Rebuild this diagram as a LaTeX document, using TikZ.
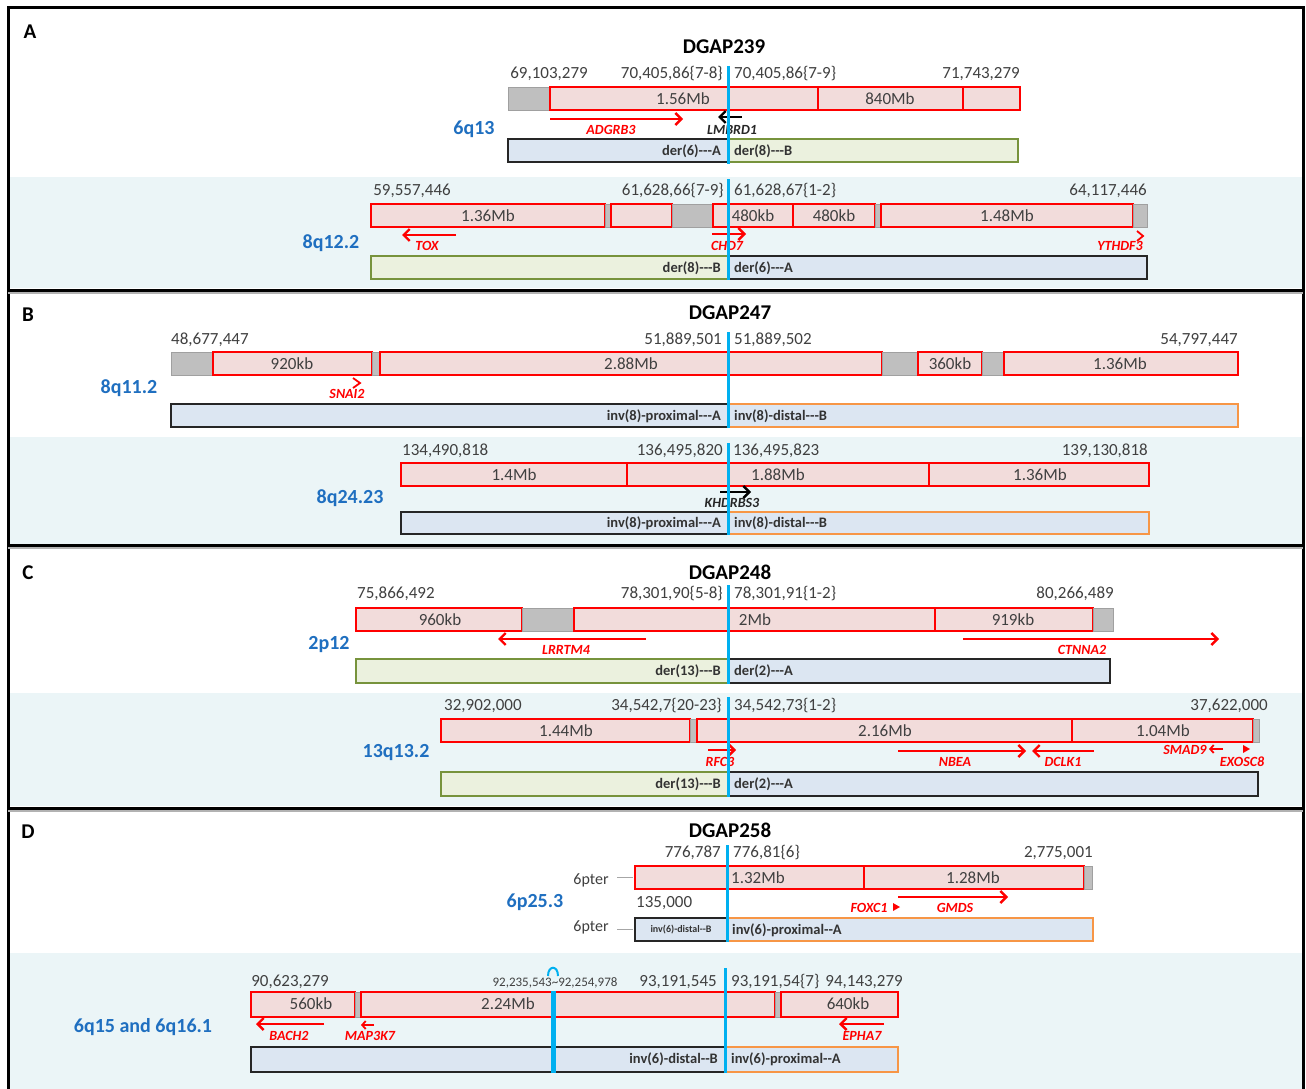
\documentclass[tikz,border=0pt]{standalone}
\usepackage{fontspec}
\setmainfont{Carlito}
\usetikzlibrary{arrows.meta}
\definecolor{pinkfill}{HTML}{F2DCDB}
\definecolor{graybar}{HTML}{BFBFBF}
\definecolor{grayedge}{HTML}{A0A0A0}
\definecolor{bluefill}{HTML}{DCE6F2}
\definecolor{greenfill}{HTML}{EBF1DE}
\definecolor{greenedge}{HTML}{77933C}
\definecolor{orangeedge}{HTML}{F79646}
\definecolor{lowbg}{HTML}{EBF5F7}
\definecolor{bandblue}{HTML}{1F6FC0}
\definecolor{bpblue}{HTML}{00B0F0}
\definecolor{txtgray}{HTML}{404040}
\definecolor{genered}{HTML}{FF0000}
\newcommand\hy{-\kern0pt}
\newcommand\rbox[4]{\draw[redbox] (#1,#3) rectangle (#2,#4);}
\newcommand\gbox[4]{\draw[graybox] (#1,#3) rectangle (#2,#4);}
\newcommand\dvl[3]{\draw[divline] (#1,#2) -- (#1,#3);}
\begin{document}
\begin{tikzpicture}[x=1pt,y=-1pt,
  num/.style={font=\fontsize{17}{17}\selectfont, text=txtgray, inner sep=0pt},
  smallnum/.style={font=\fontsize{13}{13}\selectfont, text=txtgray, inner sep=0pt},
  seg/.style={font=\fontsize{17}{17}\selectfont, text=txtgray, inner sep=0pt},
  der/.style={font=\bfseries\fontsize{14.5}{14.5}\selectfont, text=black!80, inner sep=0pt},
  tinyder/.style={font=\bfseries\fontsize{10}{10}\selectfont, text=black!80, inner sep=0pt},
  gene/.style={font=\bfseries\itshape\fontsize{14}{14}\selectfont, text=genered, inner sep=0pt},
  blackgene/.style={gene, text=black!85},
  band/.style={font=\bfseries\fontsize{20}{20}\selectfont, text=bandblue, inner sep=0pt},
  ttl/.style={font=\bfseries\fontsize{21}{21}\selectfont, inner sep=0pt},
  plabel/.style={font=\bfseries\fontsize{21}{21}\selectfont, inner sep=0pt},
  pter/.style={font=\fontsize{16}{16}\selectfont, text=txtgray, inner sep=0pt},
  redbox/.style={draw=genered, line width=1.8pt, fill=pinkfill},
  graybox/.style={draw=grayedge, line width=0.8pt, fill=graybar},
  divline/.style={draw=genered, line width=1.3pt},
  bluebar/.style={draw=black!85, line width=1.8pt, fill=bluefill},
  greenbar/.style={draw=greenedge, line width=1.8pt, fill=greenfill},
  orangebar/.style={draw=orangeedge, line width=1.8pt, fill=bluefill},
  bpline/.style={draw=bpblue, line width=3pt},
  garrow/.style={draw=genered, line width=2.4pt, -{Straight Barb[length=6pt,width=12pt]}},
  karrow/.style={garrow, draw=black},
  minarrow/.style={draw=genered, line width=1.8pt, -{Straight Barb[length=3.5pt,width=8pt]}},
  chev/.style={draw=genered, line width=1.8pt},
  tri/.style={fill=genered},
  pterline/.style={draw=gray!70, line width=1pt},
  framel/.style={draw=black, line width=3pt},
  lowpanel/.style={fill=lowbg}
]
\useasboundingbox (0,0) rectangle (1306,1089);
\fill[white] (0,0) rectangle (1306,1089);
% lower backgrounds
\fill[lowpanel] (9,177) rectangle (1302,288);
\fill[lowpanel] (9,437) rectangle (1302,544);
\fill[lowpanel] (9,693) rectangle (1302,806);
\fill[lowpanel] (9,953) rectangle (1302,1089);
% frame
\draw[framel] (8,1089) -- (8,8) -- (1303,8) -- (1303,1089);
\draw[gray!60, line width=2pt] (8,293) -- (1303,293);
\draw[framel] (8,290) -- (1303,290);
\draw[gray!60, line width=2pt] (8,548) -- (1303,548);
\draw[framel] (8,545) -- (1303,545);
\draw[gray!60, line width=2pt] (8,811) -- (1303,811);
\draw[framel] (8,808) -- (1303,808);

%%%%%%%%%%%%%%%% Panel A
\node[plabel] (pA) at (30,32) {A};
\node[ttl] (tA) at (724,47) {DGAP239};
\node[num] (a1) at (549,74) {69,103,279};
\node[num, anchor=east] (a2) at (723,74) {70,405,86\{7-8\}};
\node[num, anchor=west] (a3) at (734,74) {70,405,86\{7-9\}};
\node[num, anchor=east] (a4) at (1020,74) {71,743,279};
\gbox{508}{550}{87}{110}
\rbox{550}{1020}{87}{110}
\dvl{818}{87}{110}
\dvl{963}{87}{110}
\node[seg] (as1) at (683,99) {1.56Mb};
\node[seg] (as2) at (890,99) {840Mb};
\coordinate (g1s) at (550,119); \coordinate (g1e) at (683,119);
\draw[garrow] (g1s) -- (g1e);
\node[gene] (gADGRB3) at (611,130) {ADGRB3};
\coordinate (g2s) at (742,117); \coordinate (g2e) at (718,117);
\draw[karrow] (g2s) -- (g2e);
\node[blackgene] (gLMBRD1) at (732,130) {LMBRD1};
\node[band] (b6q13) at (474,129) {6q13};
\draw[bluebar] (508,139) rectangle (728,162);
\draw[greenbar] (728,139) rectangle (1018,162);
\node[der, anchor=east] (ad1) at (721,151) {der(6)\hy\hy\hy A};
\node[der, anchor=west] (ad2) at (734,151) {der(8)\hy\hy\hy B};
\draw[bpline] (728,66) -- (728,164);

% A lower
\node[num] (a5) at (412,191) {59,557,446};
\node[num, anchor=east] (a6) at (724,191) {61,628,66\{7-9\}};
\node[num, anchor=west] (a7) at (734,191) {61,628,67\{1-2\}};
\node[num, anchor=east] (a8) at (1147,191) {64,117,446};
\rbox{371}{605}{204}{227}
\gbox{605}{611}{204}{227}
\rbox{611}{672}{204}{227}
\gbox{672}{713}{204}{227}
\rbox{713}{875}{204}{227}
\dvl{793}{204}{227}
\gbox{875}{881}{204}{227}
\rbox{881}{1133}{204}{227}
\gbox{1133}{1147}{204}{227}
\node[seg] (as3) at (488,216) {1.36Mb};
\node[seg] (as4) at (753,216) {480kb};
\node[seg] (as5) at (834,216) {480kb};
\node[seg] (as6) at (1007,216) {1.48Mb};
\coordinate (g3s) at (456,235); \coordinate (g3e) at (402,235);
\draw[garrow] (g3s) -- (g3e);
\node[gene] (gTOX) at (427,246) {TOX};
\coordinate (g4s) at (712,234); \coordinate (g4e) at (746,234);
\draw[garrow] (g4s) -- (g4e);
\node[gene] (gCHD7) at (727,246) {CHD7};
\draw[chev] (1137,231) -- (1143,236) -- (1137,241);
\node[gene] (gYTHDF3) at (1120,246) {YTHDF3};
\node[band] (b8q122) at (331,243) {8q12.2};
\draw[greenbar] (371,256) rectangle (728,279);
\draw[bluebar] (728,256) rectangle (1147,279);
\node[der, anchor=east] (ad3) at (721,268) {der(8)\hy\hy\hy B};
\node[der, anchor=west] (ad4) at (734,268) {der(6)\hy\hy\hy A};
\draw[bpline] (728,179) -- (728,280);

%%%%%%%%%%%%%%%% Panel B
\node[plabel] (pB) at (28,315) {B};
\node[ttl] (tB) at (730,313) {DGAP247};
\node[num, anchor=west] (b1) at (171,340) {48,677,447};
\node[num, anchor=east] (b2) at (722,340) {51,889,501};
\node[num, anchor=west] (b3) at (734,340) {51,889,502};
\node[num, anchor=east] (b4) at (1238,340) {54,797,447};
\gbox{171}{213}{352}{375}
\rbox{213}{372}{352}{375}
\gbox{372}{380}{352}{375}
\rbox{380}{882}{352}{375}
\gbox{882}{918}{352}{375}
\rbox{918}{982}{352}{375}
\gbox{982}{1004}{352}{375}
\rbox{1004}{1238}{352}{375}
\node[seg] (bs1) at (292,364) {920kb};
\node[seg] (bs2) at (631,364) {2.88Mb};
\node[seg] (bs3) at (950,364) {360kb};
\node[seg] (bs4) at (1120,364) {1.36Mb};
\draw[chev] (353,378) -- (360,383) -- (353,388);
\node[gene] (gSNAI2) at (347,394) {SNAI2};
\node[band] (b8q112) at (129,388) {8q11.2};
\draw[bluebar] (171,404) rectangle (728,427);
\draw[orangebar] (728,404) rectangle (1238,427);
\node[der, anchor=east] (bd1) at (721,416) {inv(8)-proximal\hy\hy\hy A};
\node[der, anchor=west] (bd2) at (734,416) {inv(8)-distal\hy\hy\hy B};
\draw[bpline] (728,332) -- (728,428);

% B lower
\node[num, anchor=west] (b5) at (402,451) {134,490,818};
\node[num, anchor=east] (b6) at (723,451) {136,495,820};
\node[num, anchor=west] (b7) at (733,451) {136,495,823};
\node[num, anchor=east] (b8) at (1148,451) {139,130,818};
\rbox{401}{1149}{463}{486}
\dvl{627}{463}{486}
\dvl{929}{463}{486}
\node[seg] (bs5) at (514,475) {1.4Mb};
\node[seg] (bs6) at (778,475) {1.88Mb};
\node[seg] (bs7) at (1040,475) {1.36Mb};
\coordinate (g5s) at (720,492); \coordinate (g5e) at (751,492);
\draw[karrow] (g5s) -- (g5e);
\node[blackgene] (gKHDRBS3) at (732,503) {KHDRBS3};
\node[band] (b8q2423) at (350,498) {8q24.23};
\draw[bluebar] (401,512) rectangle (728,534);
\draw[orangebar] (728,512) rectangle (1149,534);
\node[der, anchor=east] (bd3) at (721,523) {inv(8)-proximal\hy\hy\hy A};
\node[der, anchor=west] (bd4) at (734,523) {inv(8)-distal\hy\hy\hy B};
\draw[bpline] (728,443) -- (728,535);

%%%%%%%%%%%%%%%% Panel C
\node[plabel] (pC) at (28,573) {C};
\node[ttl] (tC) at (730,572) {DGAP248};
\node[num, anchor=west] (c1) at (357,594) {75,866,492};
\node[num, anchor=east] (c2) at (723,594) {78,301,90\{5-8\}};
\node[num, anchor=west] (c3) at (734,594) {78,301,91\{1-2\}};
\node[num, anchor=east] (c4) at (1114,594) {80,266,489};
\rbox{356}{522}{608}{631}
\gbox{522}{574}{608}{631}
\rbox{574}{1093}{608}{631}
\dvl{935}{608}{631}
\gbox{1093}{1113}{608}{631}
\node[seg] (cs1) at (440,620) {960kb};
\node[seg] (cs2) at (755,620) {2Mb};
\node[seg] (cs3) at (1013,620) {919kb};
\coordinate (g6s) at (646,639); \coordinate (g6e) at (498,639);
\draw[garrow] (g6s) -- (g6e);
\node[gene] (gLRRTM4) at (566,650) {LRRTM4};
\coordinate (g7s) at (963,639); \coordinate (g7e) at (1219,639);
\draw[garrow] (g7s) -- (g7e);
\node[gene] (gCTNNA2) at (1082,650) {CTNNA2};
\node[band] (b2p12) at (329,645) {2p12};
\draw[greenbar] (356,659) rectangle (728,683);
\draw[bluebar] (728,659) rectangle (1110,683);
\node[der, anchor=east] (cd1) at (721,671) {der(13)\hy\hy\hy B};
\node[der, anchor=west] (cd2) at (734,671) {der(2)\hy\hy\hy A};
\draw[bpline] (728,585) -- (728,684);

% C lower
\node[num, anchor=west] (c5) at (444,706) {32,902,000};
\node[num, anchor=east] (c6) at (722,706) {34,542,7\{20-23\}};
\node[num, anchor=west] (c7) at (734,706) {34,542,73\{1-2\}};
\node[num, anchor=east] (c8) at (1268,706) {37,622,000};
\rbox{441}{690}{719}{742}
\gbox{690}{697}{719}{742}
\rbox{697}{1253}{719}{742}
\dvl{1072}{719}{742}
\gbox{1253}{1259}{719}{742}
\node[seg] (cs4) at (566,731) {1.44Mb};
\node[seg] (cs5) at (885,731) {2.16Mb};
\node[seg] (cs6) at (1163,731) {1.04Mb};
\coordinate (g8s) at (708,750); \coordinate (g8e) at (736,750);
\draw[garrow] (g8s) -- (g8e);
\node[gene] (gRFC3) at (720,762) {RFC3};
\coordinate (g9s) at (898,751); \coordinate (g9e) at (1026,751);
\draw[garrow] (g9s) -- (g9e);
\node[gene] (gNBEA) at (955,762) {NBEA};
\coordinate (g10s) at (1094,751); \coordinate (g10e) at (1032,751);
\draw[garrow] (g10s) -- (g10e);
\node[gene] (gDCLK1) at (1063,762) {DCLK1};
\node[gene] (gSMAD9) at (1185,750) {SMAD9};
\coordinate (g11s) at (1223,749); \coordinate (g11e) at (1209,749);
\draw[minarrow] (g11s) -- (g11e);
\node[gene] (gEXOSC8) at (1242,762) {EXOSC8};
\fill[tri] (1243,745) -- (1250,749) -- (1243,753) -- cycle;
\node[band] (b13q132) at (396,753) {13q13.2};
\draw[greenbar] (441,772) rectangle (728,796);
\draw[bluebar] (728,772) rectangle (1258,796);
\node[der, anchor=east] (cd3) at (721,784) {der(13)\hy\hy\hy B};
\node[der, anchor=west] (cd4) at (734,784) {der(2)\hy\hy\hy A};
\draw[bpline] (728,697) -- (728,797);

%%%%%%%%%%%%%%%% Panel D
\node[plabel] (pD) at (28,832) {D};
\node[ttl] (tD) at (730,830) {DGAP258};
\node[num, anchor=east] (d1) at (721,853) {776,787};
\node[num, anchor=west] (d2) at (733,853) {776,81\{6\}};
\node[num, anchor=east] (d3) at (1093,853) {2,775,001};
\node[pter] (pt1) at (591,880) {6pter};
\draw[pterline] (617,877) -- (633,877);
\rbox{635}{1084}{866}{889}
\dvl{864}{866}{889}
\gbox{1084}{1092}{866}{889}
\node[seg, anchor=west] (ds1) at (731,878) {1.32Mb};
\node[seg] (ds2) at (973,878) {1.28Mb};
\node[num, anchor=west] (d4) at (636,903) {135,000};
\node[gene] (gFOXC1) at (869,908) {FOXC1};
\fill[tri] (893,903) -- (900,907) -- (893,911) -- cycle;
\coordinate (g12s) at (898,897); \coordinate (g12e) at (1008,897);
\draw[garrow] (g12s) -- (g12e);
\node[gene] (gGMDS) at (955,908) {GMDS};
\node[band] (b6p253) at (535,902) {6p25.3};
\node[pter] (pt2) at (591,927) {6pter};
\draw[pterline] (617,929) -- (633,929);
\draw[bluebar] (635,918) rectangle (727,941);
\draw[orangebar] (727,918) rectangle (1093,941);
\node[tinyder] (dd1) at (681,930) {inv(6)-distal\hy\hy B};
\node[der, anchor=west] (dd2) at (732,930) {inv(6)-proximal\hy\hy A};
\draw[bpline] (727,845) -- (727,942);

% D lower
\node[num] (d5) at (290,982) {90,623,279};
\node[smallnum] (d6) at (555,983) {92,235,543\textasciitilde 92,254,978};
\node[num, anchor=east] (d7) at (717,982) {93,191,545};
\node[num, anchor=west] (d8) at (731,982) {93,191,54\{7\}};
\node[num, anchor=east] (d9) at (903,982) {94,143,279};
\rbox{251}{355}{992}{1017}
\gbox{355}{361}{992}{1017}
\rbox{361}{775}{992}{1017}
\gbox{775}{781}{992}{1017}
\rbox{781}{898}{992}{1017}
\node[seg] (ds3) at (311,1004) {560kb};
\node[seg] (ds4) at (508,1004) {2.24Mb};
\node[seg] (ds5) at (848,1004) {640kb};
\coordinate (g13s) at (324,1024); \coordinate (g13e) at (256,1024);
\draw[garrow] (g13s) -- (g13e);
\node[gene] (gBACH2) at (289,1036) {BACH2};
\coordinate (g14s) at (374,1025); \coordinate (g14e) at (361,1025);
\draw[minarrow] (g14s) -- (g14e);
\node[gene] (gMAP3K7) at (370,1036) {MAP3K7};
\coordinate (g15s) at (884,1024); \coordinate (g15e) at (839,1024);
\draw[garrow] (g15s) -- (g15e);
\node[gene] (gEPHA7) at (862,1036) {EPHA7};
\node[band] (b6q15) at (143,1027) {6q15 and 6q16.1};
\draw[bluebar] (251,1047) rectangle (725,1072);
\draw[orangebar] (725,1047) rectangle (898,1072);
\node[der, anchor=east] (dd3) at (718,1059) {inv(6)-distal\hy\hy B};
\node[der, anchor=west] (dd4) at (731,1059) {inv(6)-proximal\hy\hy A};
\draw[bpline] (725,968) -- (725,1073);
\draw[bpline, line width=5pt] (553,991) -- (553,1073);
\draw[bpblue, line width=2pt] (548,976) .. controls (548,965) and (558,965) .. (558,976);
\end{tikzpicture}
\end{document}
